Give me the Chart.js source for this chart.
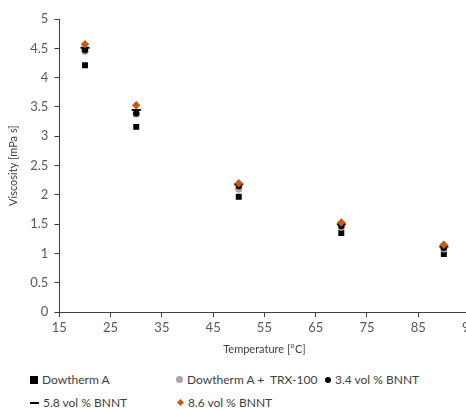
<!DOCTYPE html>
<html><head><meta charset="utf-8">
<script src="https://cdn.jsdelivr.net/npm/chart.js@4/dist/chart.umd.min.js"></script>
<style>
html,body{margin:0;padding:0;background:#fff;overflow:hidden;width:466px;height:409px;}
#wrap{position:absolute;left:0;top:0;width:480px;height:360px;}
#legend{position:absolute;left:0;top:372px;width:466px;font-family:Lato,"Open Sans",sans-serif;font-size:12px;color:#404040;}
.li{position:absolute;white-space:pre;display:flex;align-items:center;}
.mk{display:inline-block;margin-right:4px;}
</style></head>
<body>
<div id="wrap"><canvas id="c" width="480" height="360"></canvas></div>
<div id="legend"></div>
<script>
const temperatures = [20, 30, 50, 70, 90];
const dowthermA = [4.21, 3.16, 1.97, 1.35, 0.99];
const dowthermTRX = [4.45, 3.38, 2.10, 1.45, 1.08];
const bnnt34 = [4.47, 3.39, 2.15, 1.47, 1.10];
const bnnt58 = [4.51, 3.45, 2.18, 1.50, 1.12];
const bnnt86 = [4.57, 3.53, 2.20, 1.53, 1.15];
const seriesNames = ["Dowtherm A", "Dowtherm A +  TRX-100", "3.4 vol % BNNT", "5.8 vol % BNNT", "8.6 vol % BNNT"];
const xTicks = [15, 25, 35, 45, 55, 65, 75, 85, 95];
const yTicks = [0, 0.5, 1, 1.5, 2, 2.5, 3, 3.5, 4, 4.5, 5];

const styles = [
  {pointStyle:'rect', color:'#000000', radius:4.2},
  {pointStyle:'circle', color:'#A5A5A5', radius:3.6},
  {pointStyle:'circle', color:'#000000', radius:3.2},
  {pointStyle:'line', color:'#000000', radius:4.5},
  {pointStyle:'rectRot', color:'#C65911', radius:4.2}
];
const values = [dowthermA, dowthermTRX, bnnt34, bnnt58, bnnt86];
const datasets = values.map((v,i)=>({
  label: seriesNames[i],
  data: temperatures.map((t,j)=>({x:t,y:v[j]})),
  pointStyle: styles[i].pointStyle,
  pointRadius: styles[i].radius,
  pointHoverRadius: styles[i].radius,
  backgroundColor: styles[i].color,
  borderColor: styles[i].color,
  borderWidth: styles[i].pointStyle==='line'?2:0,
  showLine:false,
  order: 5-i
}));
const font = {family:'Lato, "Open Sans", sans-serif', size:13};
new Chart(document.getElementById('c'), {
  type:'scatter',
  data:{datasets},
  options:{
    responsive:false, animation:false,
    layout:{padding:{left:3, top:19, right:0, bottom:0}},
    plugins:{legend:{display:false}, tooltip:{enabled:false}},
    scales:{
      x:{type:'linear', min:15, max:95,
        afterBuildTicks:(s)=>{s.ticks = xTicks.map(v=>({value:v}));},
        ticks:{color:'#595959', font, padding:3, maxRotation:0, callback:(v)=>String(v)},
        grid:{display:true, drawOnChartArea:false, drawTicks:true, tickLength:5, color:'#404040'},
        border:{color:'#404040', width:1},
        title:{display:true, text:'Temperature [°C]', color:'#404040', font:{family:font.family,size:11}, padding:{top:4}}
      },
      y:{type:'linear', min:0, max:5,
        afterBuildTicks:(s)=>{s.ticks = yTicks.map(v=>({value:v}));},
        ticks:{color:'#595959', font, padding:6, callback:(v)=>String(v)},
        grid:{display:true, drawOnChartArea:false, drawTicks:true, tickLength:5, color:'#404040'},
        border:{color:'#404040', width:1},
        title:{display:true, text:'Viscosity [mPa s]', color:'#404040', font:{family:font.family,size:11}, padding:{bottom:4}}
      }
    }
  }
});
const pos = [[30,0],[176,0],[325,0],[30,23],[176,23]];
const leg = document.getElementById('legend');
seriesNames.forEach((n,i)=>{
  const d = document.createElement('div'); d.className='li';
  d.style.left = pos[i][0]+'px'; d.style.top = pos[i][1]+'px';
  const m = document.createElement('span'); m.className='mk';
  const st = styles[i];
  if(st.pointStyle==='rect'){m.style.cssText+='width:8px;height:8px;background:'+st.color;}
  else if(st.pointStyle==='circle'){const s=i===1?7:6;m.style.cssText+='width:'+s+'px;height:'+s+'px;border-radius:50%;background:'+st.color;}
  else if(st.pointStyle==='line'){m.style.cssText+='width:9px;height:2px;background:'+st.color;}
  else {m.style.cssText+='width:5px;height:5px;transform:rotate(45deg);margin-left:2px;margin-right:5px;background:'+st.color;}
  d.appendChild(m);
  const t=document.createElement('span'); t.textContent=n; d.appendChild(t);
  leg.appendChild(d);
});
</script>
</body></html>
